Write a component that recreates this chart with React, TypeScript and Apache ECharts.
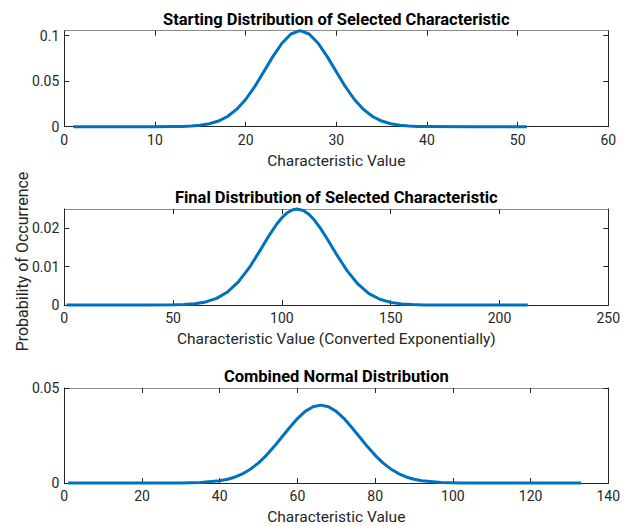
import React, { useEffect, useRef } from "react";
import * as echarts from "echarts";

// Starting distribution (characteristic value vs probability)
const startX = [1, 5, 10, 12, 13, 14, 15, 16, 17, 18, 19, 20, 21, 22, 23, 24, 25, 26, 27, 28, 29, 30, 31, 32, 33, 34, 35, 36, 37, 38, 39, 40, 45, 51];
const startY = [0, 0, 0, 0.0001, 0.0003, 0.0007, 0.0015, 0.0032, 0.0062, 0.0112, 0.019, 0.0299, 0.044, 0.0603, 0.077, 0.0917, 0.1019, 0.1055, 0.1019, 0.0917, 0.077, 0.0603, 0.044, 0.0299, 0.019, 0.0112, 0.0062, 0.0032, 0.0015, 0.0007, 0.0003, 0.0001, 0, 0];

// Final distribution (converted exponentially)
const finalX = [1, 10, 20, 30, 40, 50, 55, 60, 65, 70, 75, 80, 85, 90, 92.5, 95, 97.5, 100, 102.5, 105, 107, 110, 112.5, 115, 117.5, 120, 122.5, 125, 130, 135, 140, 145, 150, 155, 160, 165, 170, 180, 190, 200, 213];
const finalY = [0, 0, 0, 0, 0, 0.00004, 0.00013, 0.00034, 0.0008, 0.00173, 0.00338, 0.00602, 0.00972, 0.01422, 0.01658, 0.01887, 0.02096, 0.02272, 0.02403, 0.0248, 0.025, 0.02457, 0.02357, 0.02206, 0.02016, 0.01797, 0.01564, 0.01328, 0.0089, 0.00541, 0.00298, 0.00149, 0.00068, 0.00028, 0.0001, 0.00003, 0, 0, 0, 0, 0];

// Combined normal distribution
const combX = [1, 10, 20, 30, 35, 40, 42, 44, 46, 48, 50, 52, 54, 56, 58, 60, 62, 64, 66, 68, 70, 72, 74, 76, 78, 80, 82, 84, 86, 88, 90, 92, 97, 102, 110, 120, 133];
const combY = [0, 0, 0, 0.00004, 0.00026, 0.00115, 0.00196, 0.00318, 0.00496, 0.0074, 0.0106, 0.01456, 0.01916, 0.02418, 0.0292, 0.0339, 0.0377, 0.0401, 0.041, 0.0401, 0.0377, 0.0339, 0.0292, 0.02418, 0.01916, 0.01456, 0.0106, 0.0074, 0.00496, 0.00318, 0.00196, 0.00115, 0.00026, 0.00004, 0, 0, 0];

const titles = [
  "Starting Distribution of Selected Characteristic",
  "Final Distribution of Selected Characteristic",
  "Combined Normal Distribution",
];
const xNames = [
  "Characteristic Value",
  "Characteristic Value (Converted Exponentially)",
  "Characteristic Value",
];
const xMax = [60, 250, 140];
const xInterval = [10, 50, 20];
const yMax = [0.1055, 0.025, 0.05];
const yTicks = [
  [0, 0.05, 0.1],
  [0, 0.01, 0.02],
  [0, 0.05],
];
const yLabel = "Probability of Occurrence";

const FONT = "Roboto";
const TXT = "#262626";

export default function App() {
  const ref = useRef<HTMLDivElement>(null);
  useEffect(() => {
    if (!ref.current) return;
    const chart = echarts.init(ref.current, null, { renderer: "svg" });
    const gridTops = [30.7, 209, 388];
    const gridHeights = [96, 96, 95.3];
    const left = 64.3;
    const width = 544;
    const datasets = [
      startX.map((x, i) => [x, startY[i]]),
      finalX.map((x, i) => [x, finalY[i]]),
      combX.map((x, i) => [x, combY[i]]),
    ];
    const grid: any[] = [];
    const xAxis: any[] = [];
    const yAxis: any[] = [];
    const series: any[] = [];
    const title: any[] = [];
    for (let i = 0; i < 3; i++) {
      grid.push({ left, top: gridTops[i], width, height: gridHeights[i], containLabel: false });
      title.push({
        text: titles[i],
        left: left + width / 2,
        textAlign: "center",
        top: gridTops[i] - 20,
        padding: 0,
        textStyle: { fontFamily: FONT, fontWeight: "bold", fontSize: 16.5, color: "#000" },
      });
      xAxis.push({
        type: "value",
        gridIndex: i,
        position: "bottom",
        min: 0,
        max: xMax[i],
        interval: xInterval[i],
        name: xNames[i],
        nameLocation: "middle",
        nameGap: 26,
        nameTextStyle: { fontFamily: FONT, fontSize: 15.5, color: TXT },
        axisLine: { show: true, onZero: false, lineStyle: { color: TXT, width: 1 } },
        axisTick: { show: true, inside: true, length: 5, lineStyle: { color: TXT } },
        axisLabel: { show: true, fontFamily: FONT, fontSize: 14, color: TXT, margin: 6 },
        splitLine: { show: false },
      });
      xAxis.push({
        type: "value",
        gridIndex: i,
        position: "top",
        min: 0,
        max: xMax[i],
        interval: xInterval[i],
        axisLine: { show: true, onZero: false, lineStyle: { color: "#8c8c8c", width: 1 } },
        axisTick: { show: true, inside: true, length: 5, lineStyle: { color: TXT } },
        axisLabel: { show: false },
        splitLine: { show: false },
      });
      yAxis.push({
        type: "value",
        gridIndex: i,
        position: "left",
        min: 0,
        max: yMax[i],
        axisLine: { show: true, onZero: false, lineStyle: { color: TXT, width: 1 } },
        axisTick: { show: true, inside: true, length: 5, lineStyle: { color: TXT }, customValues: yTicks[i] },
        axisLabel: { show: true, fontFamily: FONT, fontSize: 14, color: TXT, margin: 5, customValues: yTicks[i] },
        splitLine: { show: false },
      });
      yAxis.push({
        type: "value",
        gridIndex: i,
        position: "right",
        min: 0,
        max: yMax[i],
        axisLine: { show: true, onZero: false, lineStyle: { color: TXT, width: 1 } },
        axisTick: { show: true, inside: true, length: 5, lineStyle: { color: TXT }, customValues: yTicks[i] },
        axisLabel: { show: false },
        splitLine: { show: false },
      });
      series.push({
        type: "line",
        xAxisIndex: 2 * i,
        yAxisIndex: 2 * i,
        data: datasets[i],
        showSymbol: false,
        smooth: false,
        clip: false,
        lineStyle: { color: "#0072BD", width: 3, join: "round" },
        z: 1,
      });
    }
    chart.setOption({
      animation: false,
      backgroundColor: "#fff",
      title,
      grid,
      xAxis,
      yAxis,
      series,
      graphic: [
        {
          type: "text",
          x: 22,
          y: 261.5,
          rotation: Math.PI / 2,
          style: {
            text: yLabel,
            fontFamily: FONT,
            fontSize: 16,
            fill: TXT,
            textAlign: "center",
            textVerticalAlign: "middle",
          },
        },
      ],
    });
    return () => chart.dispose();
  }, []);
  return (
    <div
      ref={ref}
      style={{ position: "absolute", left: 0, top: 0, width: 631, height: 526 }}
    />
  );
}
